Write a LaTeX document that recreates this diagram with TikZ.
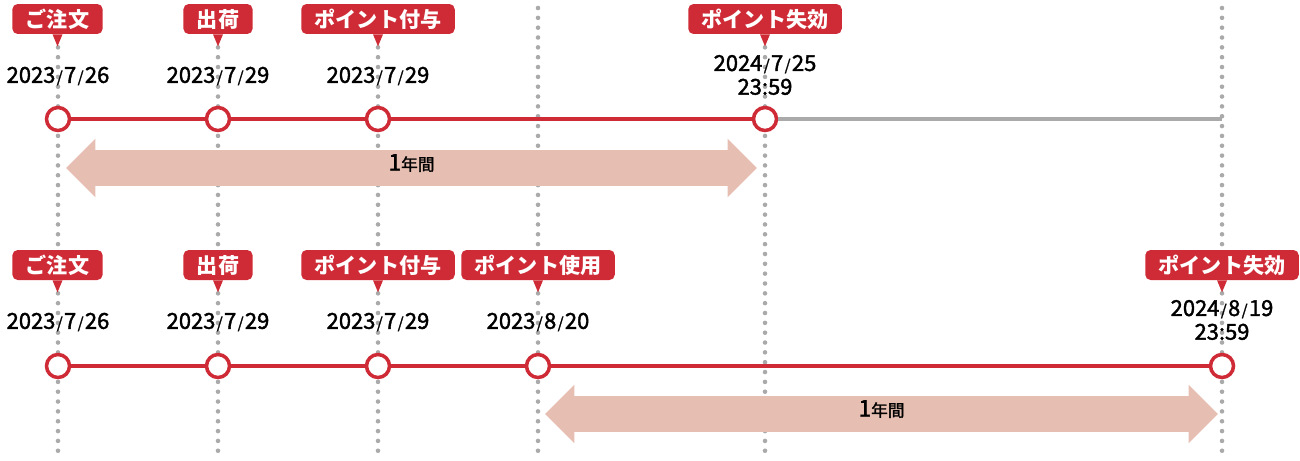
\documentclass[tikz,border=0pt]{standalone}
\usepackage{fontspec}
\setmainfont{Noto Sans CJK JP}
\newfontfamily\medfont{Noto Sans CJK JP}[FakeBold=1.8]
\usetikzlibrary{positioning,shapes.arrows}
\definecolor{tlred}{HTML}{CF2B36}
\definecolor{tlgrey}{HTML}{AAAAAA}
\definecolor{tlband}{HTML}{E6BFB2}
\newcommand{\dsl}{{\kern0.8pt\raisebox{0.2pt}{\fontsize{8.5}{8.5}\selectfont/}\kern0.8pt}}
\newcommand{\yearlbl}{{\medfont\fontsize{13}{13}\selectfont 1}{\medfont\fontsize{9.5}{9.5}\selectfont 年間}}

\begin{document}
\begin{tikzpicture}[
  x=0.02cm, y=-0.02cm,
  font=\medfont\fontsize{12.5}{13.5}\selectfont,
  tag/.style={fill=tlred, text=white, rounded corners=3pt,
              font=\bfseries\fontsize{12}{13}\selectfont,
              minimum height=0.6cm, inner xsep=0.27cm, inner ysep=0pt},
  datum/.style={align=center, inner sep=0pt},
  pt/.style={circle, draw=tlred, fill=white, line width=2pt,
             minimum size=0.46cm, inner sep=0pt},
  tl/.style={tlred, line width=2pt},
  gl/.style={tlgrey, line width=2pt},
  vdot/.style={tlgrey, line width=2.6pt, line cap=round,
               dash pattern=on 0pt off 5.6pt},
  band/.style={double arrow, fill=tlband, double arrow tip angle=90,
               double arrow head extend=0.23cm, inner xsep=0pt, inner ysep=0.2cm,
               text height=0.2cm, text depth=0.1cm}]

\useasboundingbox (0,0) rectangle (1300,460);

% ---- guide lines ----
\foreach \x in {58,218,378,538,765,1222}
  \draw[vdot] (\x,8) -- (\x,460);

% ---- period bands ----
\node[band, minimum height=13.82cm] (y1) at (411.5,168) {\yearlbl};
\node[band, minimum height=13.46cm] (y2) at (881.5,414) {\yearlbl};

% ---- upper timeline ----
\node[pt] (a1) at (58,119) {};
\node[pt] (a2) at (218,119) {};
\node[pt] (a3) at (378,119) {};
\node[pt] (a4) at (765,119) {};
\coordinate (ae) at (1222,119);
\draw[gl] (a4) -- (ae);
\draw[tl] (a1) -- (a2); \draw[tl] (a2) -- (a3); \draw[tl] (a3) -- (a4);

\node[tag] (ta1) at (57.5,19) {ご注文};
\node[tag] (ta2) at (218,19) {出荷};
\node[tag] (ta3) at (378,19) {ポイント付与};
\node[tag] (ta4) at (765,19) {ポイント失効};

\node[datum] (da1) at (58,76) {2023\dsl 7\dsl 26};
\node[datum] (da2) at (218,76) {2023\dsl 7\dsl 29};
\node[datum] (da3) at (378,76) {2023\dsl 7\dsl 29};
\node[datum] (da4) at (765,75) {2024\dsl 7\dsl 25\\23:59};

% ---- lower timeline ----
\node[pt] (b1) at (58,366) {};
\node[pt] (b2) at (218,366) {};
\node[pt] (b3) at (378,366) {};
\node[pt] (b4) at (538,366) {};
\node[pt] (b5) at (1222,366) {};
\draw[tl] (b1) -- (b2); \draw[tl] (b2) -- (b3); \draw[tl] (b3) -- (b4);
\draw[tl] (b4) -- (b5);

\node[tag] (tb1) at (57.5,265) {ご注文};
\node[tag] (tb2) at (218,265) {出荷};
\node[tag] (tb3) at (378,265) {ポイント付与};
\node[tag] (tb4) at (538,265) {ポイント使用};
\node[tag] (tb5) at (1222,265) {ポイント失効};

\node[datum] (db1) at (58,322) {2023\dsl 7\dsl 26};
\node[datum] (db2) at (218,322) {2023\dsl 7\dsl 29};
\node[datum] (db3) at (378,322) {2023\dsl 7\dsl 29};
\node[datum] (db4) at (538,322) {2023\dsl 8\dsl 20};
\node[datum] (db5) at (1222,320) {2024\dsl 8\dsl 19\\23:59};

% ---- callout pointers ----
\foreach \t in {ta1,ta2,ta3,ta4,tb1,tb2,tb3,tb4,tb5}
  \fill[tlred] ([xshift=-0.1cm]\t.south) -- ([yshift=-0.24cm]\t.south)
    -- ([xshift=0.1cm]\t.south) -- cycle;
\end{tikzpicture}
\end{document}
